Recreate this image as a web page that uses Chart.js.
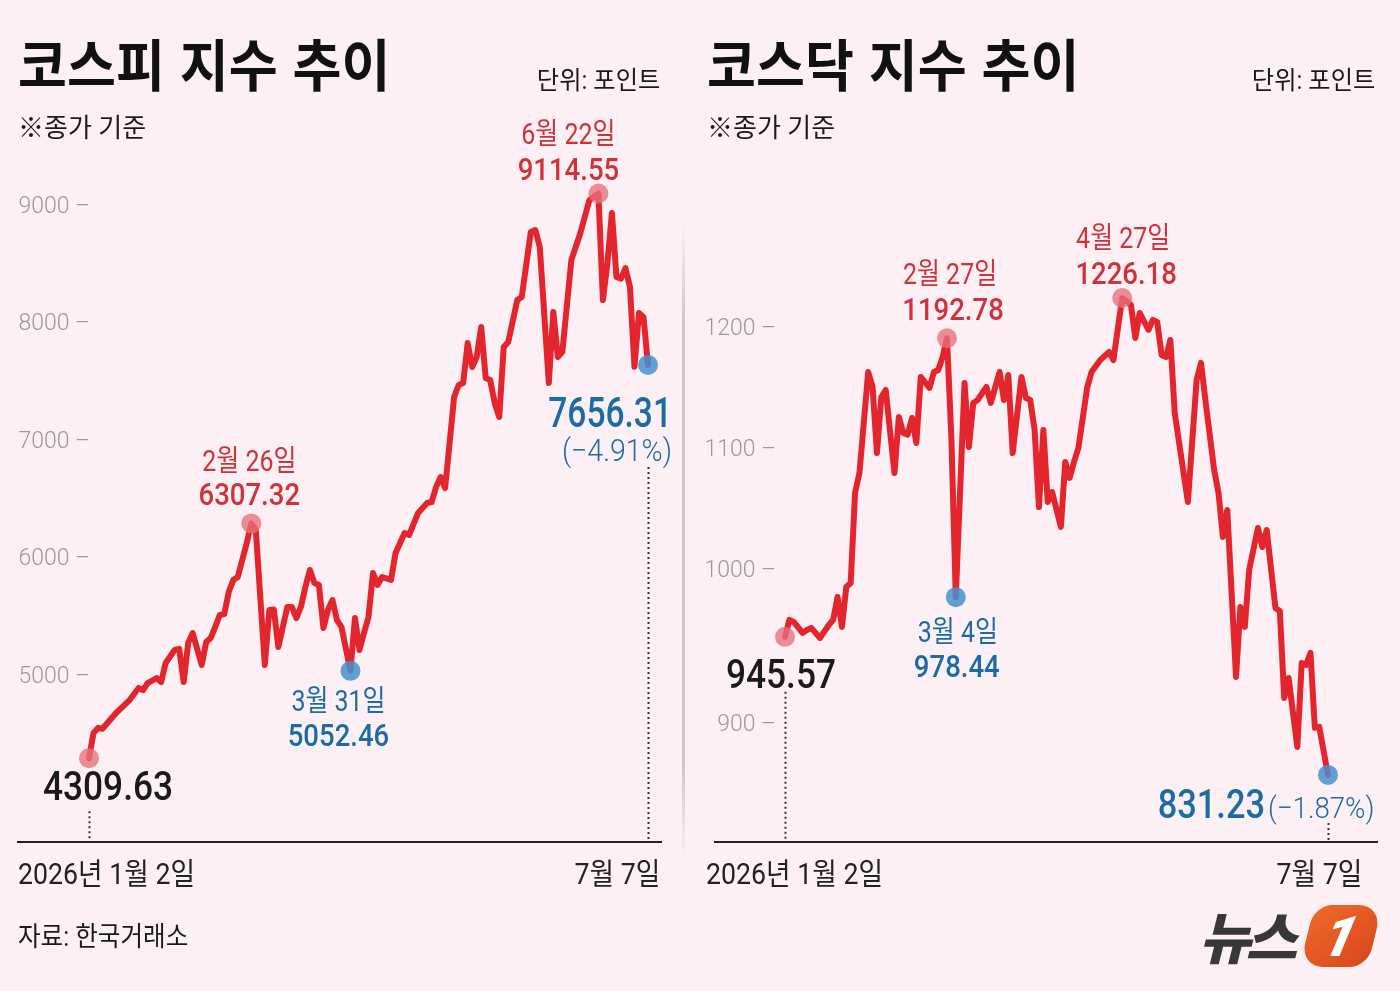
<!DOCTYPE html>
<html lang="ko">
<head>
<meta charset="utf-8">
<script src="https://cdn.jsdelivr.net/npm/chart.js@4.4.1/dist/chart.umd.min.js"></script>
<style>
  body{margin:0;width:1400px;height:991px;overflow:hidden;position:relative;background:#fcf0f4;
       font-family:Roboto,"Noto Sans CJK KR",sans-serif;color:#1a1a1a;}
  canvas{position:absolute;top:0;}
  .t{position:absolute;white-space:nowrap;line-height:1;}
  .l{transform-origin:left top;}
  .r{transform-origin:right top;}
  .title{font-family:"Noto Sans CJK KR";font-weight:700;font-size:56px;color:#111;top:34px;transform:scaleX(0.95);}
  .unit{font-size:25px;top:68px;transform:scaleX(0.97);}
  .sub{font-size:26px;top:115px;transform:scaleX(1);}
  .xl{font-size:30px;top:859px;color:#222;transform:scaleX(0.89);}
  .base{position:absolute;top:841px;height:2px;background:#222;}
</style>
</head>
<body>
<canvas id="kospi" width="700" height="991" style="left:0"></canvas>
<canvas id="kosdaq" width="700" height="991" style="left:700px"></canvas>

<div class="t title l" style="left:18px">코스피 지수 추이</div>
<div class="t unit r" style="right:740px">단위: 포인트</div>
<div class="t sub l" style="left:18px">※종가 기준</div>
<div class="base" style="left:17px;width:645px"></div>
<div class="t xl l" style="left:18px">2026년 1월 2일</div>
<div class="t xl r" style="right:740px">7월 7일</div>
<div class="t l" style="left:18px;top:924px;font-size:27px;transform:scaleX(0.91)">자료: 한국거래소</div>

<div style="position:absolute;left:682px;top:225px;width:3px;height:635px;
  background:linear-gradient(to bottom,rgba(205,195,200,0),rgba(205,195,200,0.95) 15%,rgba(205,195,200,0.95) 85%,rgba(205,195,200,0));"></div>

<div class="t title l" style="left:707px">코스닥 지수 추이</div>
<div class="t unit r" style="right:25px">단위: 포인트</div>
<div class="t sub l" style="left:707px">※종가 기준</div>
<div class="base" style="left:714px;width:664px"></div>
<div class="t xl l" style="left:706px">2026년 1월 2일</div>
<div class="t xl r" style="right:38px">7월 7일</div>

<div style="position:absolute;left:1203px;top:903px;width:180px;height:70px;">
  <span class="t" style="left:2px;top:4px;font-family:'Noto Sans CJK KR';font-weight:900;font-size:56px;color:#383838;letter-spacing:-5px;transform:skewX(-14deg);">뉴스</span>
  <div style="position:absolute;left:104px;top:2px;width:68px;height:62px;background:linear-gradient(135deg,#ef6a2a,#d9461a);border-radius:18px 24px 18px 24px;transform:skewX(-14deg);">
    <span class="t" style="left:18px;top:4px;font-family:Roboto;font-weight:900;font-style:italic;font-size:56px;color:#fff;">1</span>
  </div>
</div>

<script>
// 코스피 종가 (거래일 순번, 0 = 1월 2일, 124 = 7월 7일)
const kospiDays = [0,1,2,3,6,9,11,12,13,15,16,17,19,20,21,22,23,25,26,27,28,29,30,31,32,33,35,36,37,39,
  40,41,42,43,44,45,46,47,48,49,50,51,52,53,54,55,56,58,59,60,61,62,63,64,65,67,68,70,71,73,
  75,76,77,78,79,81,82,83,84,85,86,87,88,89,90,91,92,93,95,96,98,99,100,102,103,104,105,107,109,111,
  113,114,115,116,117,118,119,120,121,122,123,124];
const kospiValues = [4309.63,4523,4566,4560,4694,4804,4906,4889,4949,4991,4957,5119,5230,5240,4957,5289,5374,5102,5298,5332,
  5426,5528,5535,5723,5825,5851,6140,6307.32,6251,5102,5570,5575,5255,5426,5596,5596,5502,5596,5766,5911,
  5800,5783,5417,5570,5655,5485,5426,5052.46,5502,5230,5374,5511,5885,5783,5851,5826,6055,6225,6208,6396,
  6481,6489,6617,6702,6608,7383,7485,7502,7842,7638,7723,7979,7545,7527,7332,7213,7808,7851,8208,8234,
  8787,8804,8659,7502,8106,7723,7766,8549,8778,9059,9114.55,8208,8523,8949,8404,8390,8480,8319,7640,8098,
  8064,7656.31];

// 코스닥 종가
const kosdaqDays = [0,1,2,4,5,6,8,10,11,12,13,14,15,16,17,19,20,21,22,23,25,26,27,28,29,30,31,33,34,35,36,37,38,39,
  41,42,43,44,46,47,49,50,51,52,54,55,56,57,58,59,60,61,63,64,65,66,67,69,70,72,74,75,77,79,80,81,83,84,85,86,87,88,89,
  92,94,95,96,98,99,100,101,103,104,105,106,108,109,110,112,113,114,115,117,118,119,120,121,122,124];
const kosdaqValues = [945.57,959.6,957.9,948.8,951.3,953.0,944.7,955.4,959.6,978.6,953.8,986.9,990.2,1064.7,1081.3,1164.9,1152.5,1097.8,1144.2,1150.0,
  1081.3,1127.7,1114.4,1113.0,1126.8,1106.1,1160.8,1151.7,1164.9,1166.6,1177.3,1192.78,1110.0,978.44,
  1155.8,1102.8,1139.3,1141.7,1152.5,1139.3,1164.9,1141.7,1162.4,1097.8,1160.8,1143.4,1141.7,1116.9,1053.1,1116.9,
  1057.3,1065.5,1036.6,1090.4,1077.2,1090.4,1102.0,1151.7,1164.9,1174.8,1181.5,1174.8,1226.18,1220.4,1193.1,1213.8,
  1199.7,1208.0,1206.3,1179.0,1177.3,1191.4,1131.0,1057.3,1158.3,1172.4,1141.7,1083.8,1064.7,1028.3,1050.6,
  912.4,970.3,953.8,1001.0,1035.7,1020.0,1034.1,969.5,967.0,895.0,911.5,854.4,924.0,922.3,932.3,870.2,871.0,831.23];

const kospiTicks = [5000,6000,7000,8000,9000];
const kosdaqTicks = [900,1000,1100,1200];

// 표시 지점: 시작, 고점, 저점, 마지막
const kospiMarkDays = [0,36,58,113,124];
const kospiMarkDates = ['','2월 26일','3월 31일','6월 22일',''];
const kospiChange = '(−4.91%)';
const kosdaqMarkDays = [0,37,39,77,124];
const kosdaqMarkDates = ['','2월 27일','3월 4일','4월 27일',''];
const kosdaqChange = '(−1.87%)';

const RED = '#cf323a', BLUE = '#1b6ca6', LINE = '#e3262d';
const MARK_RED = 'rgba(232,112,122,0.78)', MARK_BLUE = 'rgba(70,145,205,0.85)';
const FONT = 'Roboto, "Noto Sans CJK KR", sans-serif';
const TICK_FONT = { size: 23, weight: 300, family: FONT };

Chart.defaults.font.family = FONT;

function valueAt(days, values, d){ return values[days.indexOf(d)]; }

const notesPlugin = {
  id: 'notes',
  afterDatasetsDraw(chart, args, opts) {
    const {ctx, chartArea, scales: {x, y}} = chart;
    ctx.save();
    ctx.setLineDash([2, 3]);
    ctx.lineWidth = 2;
    ctx.strokeStyle = '#333';
    (opts.drops || []).forEach(d => {
      const px = Math.round(x.getPixelForValue(d.day)) + 0.5;
      const py = y.getPixelForValue(d.value);
      ctx.beginPath();
      ctx.moveTo(px, py + d.from);
      ctx.lineTo(px, chartArea.bottom);
      ctx.stroke();
    });
    ctx.setLineDash([]);
    (opts.items || []).forEach(n => {
      const px = x.getPixelForValue(n.day), py = y.getPixelForValue(n.value);
      ctx.save();
      ctx.translate(px + n.dx, py + n.dy);
      ctx.scale(n.sx || 0.86, 1);
      ctx.font = n.font + ' ' + FONT;
      ctx.fillStyle = n.color;
      ctx.textAlign = n.align || 'center';
      ctx.textBaseline = 'alphabetic';
      ctx.fillText(n.text, 0, 0);
      ctx.restore();
    });
    // 시작값 라벨과 겹치지 않도록 아래로 내려 적은 눈금 (원본 그래픽과 같이)
    (opts.movedTicks || []).forEach(m => {
      ctx.font = `${TICK_FONT.weight} ${TICK_FONT.size}px ${FONT}`;
      ctx.fillStyle = '#9a9a9a';
      ctx.textAlign = 'right';
      ctx.textBaseline = 'middle';
      ctx.fillText(m.value + ' –', chartArea.left - m.pad, y.getPixelForValue(m.value) + m.shift);
    });
    ctx.restore();
  }
};

function makeChart(id, days, values, markDays, cfg) {
  const line = days.map((d, i) => ({x: d, y: values[i]}));
  const marks = markDays.map(d => ({x: d, y: valueAt(days, values, d)}));
  const moved = (cfg.movedTicks || []).map(m => m.value);
  return new Chart(document.getElementById(id), {
    type: 'line',
    data: {
      datasets: [
        { data: marks, showLine: false, order: 0, clip: false,
          pointRadius: 10, pointHoverRadius: 10, pointBorderWidth: 0,
          pointBackgroundColor: cfg.markColors },
        { data: line, order: 1, clip: false, borderColor: LINE, borderWidth: 6,
          borderJoinStyle: 'round', borderCapStyle: 'round',
          pointRadius: 0, tension: 0, fill: false }
      ]
    },
    options: {
      responsive: false,
      animation: false,
      events: [],
      layout: { padding: { left: 0, top: 150, right: cfg.padRight, bottom: 149 } },
      plugins: { legend: { display: false }, tooltip: { enabled: false },
                 notes: { items: cfg.items, drops: cfg.drops, movedTicks: cfg.movedTicks } },
      scales: {
        x: { type: 'linear', display: false, min: 0, max: 124 },
        y: {
          min: cfg.yMin, max: cfg.yMax,
          afterFit: s => { s.width = cfg.axisWidth; },
          afterBuildTicks: s => { s.ticks = cfg.ticks.map(v => ({value: v})); },
          grid: { display: false, drawTicks: false },
          border: { display: false },
          ticks: { color: '#9a9a9a', padding: cfg.tickPad, font: TICK_FONT,
                   callback: v => moved.includes(v) ? '' : v + ' –' }
        }
      }
    },
    plugins: [notesPlugin]
  });
}

function fmt(v){ return v.toFixed(2); }

// 코스피
const kp = kospiMarkDays.map(d => valueAt(kospiDays, kospiValues, d));
makeChart('kospi', kospiDays, kospiValues, kospiMarkDays, {
  yMin: 3596, yMax: 9485, ticks: kospiTicks, axisWidth: 89, tickPad: -1, padRight: 52,
  markColors: [MARK_RED, MARK_RED, MARK_BLUE, MARK_RED, MARK_BLUE],
  drops: [ {day: 0, value: kp[0], from: 53}, {day: 124, value: kp[4], from: 102} ],
  items: [
    {day: 0, value: kp[0], text: fmt(kp[0]), color: '#1a1a1a', font: '500 41px', dx: 19, dy: 42},
    {day: 36, value: kp[1], text: kospiMarkDates[1], color: RED, font: '400 29px', dx: -2, dy: -52},
    {day: 36, value: kp[1], text: fmt(kp[1]), color: RED, font: '500 32px', dx: -2, dy: -18},
    {day: 58, value: kp[2], text: kospiMarkDates[2], color: BLUE, font: '400 29px', dx: -12, dy: 40},
    {day: 58, value: kp[2], text: fmt(kp[2]), color: BLUE, font: '500 32px', dx: -12, dy: 75},
    {day: 113, value: kp[3], text: kospiMarkDates[3], color: RED, font: '400 29px', dx: -30, dy: -50},
    {day: 113, value: kp[3], text: fmt(kp[3]), color: RED, font: '500 32px', dx: -30, dy: -14},
    {day: 124, value: kp[4], text: fmt(kp[4]), color: BLUE, font: '500 43px', dx: 24, dy: 62, align: 'right', sx: 0.78},
    {day: 124, value: kp[4], text: kospiChange, color: BLUE, font: '300 31px', dx: 24, dy: 96, align: 'right', sx: 0.92}
  ]
});

// 코스닥
const kq = kosdaqMarkDays.map(d => valueAt(kosdaqDays, kosdaqValues, d));
makeChart('kosdaq', kosdaqDays, kosdaqValues, kosdaqMarkDays, {
  yMin: 775.7, yMax: 1348.7, ticks: kosdaqTicks, axisWidth: 85, tickPad: 9, padRight: 72,
  movedTicks: [ {value: 900, shift: 33, pad: 9} ],
  markColors: [MARK_RED, MARK_RED, MARK_BLUE, MARK_RED, MARK_BLUE],
  drops: [ {day: 0, value: kq[0], from: 55}, {day: 124, value: kq[4], from: 48} ],
  items: [
    {day: 0, value: kq[0], text: fmt(kq[0]), color: '#1a1a1a', font: '500 41px', dx: -4, dy: 51},
    {day: 37, value: kq[1], text: kosdaqMarkDates[1], color: RED, font: '400 29px', dx: 3, dy: -54},
    {day: 37, value: kq[1], text: fmt(kq[1]), color: RED, font: '500 32px', dx: 6, dy: -18},
    {day: 39, value: kq[2], text: kosdaqMarkDates[2], color: BLUE, font: '400 29px', dx: 2, dy: 45},
    {day: 39, value: kq[2], text: fmt(kq[2]), color: BLUE, font: '500 32px', dx: 1, dy: 80},
    {day: 77, value: kq[3], text: kosdaqMarkDates[3], color: RED, font: '400 29px', dx: 1, dy: -50},
    {day: 77, value: kq[3], text: fmt(kq[3]), color: RED, font: '500 32px', dx: 4, dy: -14},
    {day: 124, value: kq[4], text: fmt(kq[4]), color: BLUE, font: '500 40px', dx: -63, dy: 43, align: 'right'},
    {day: 124, value: kq[4], text: kosdaqChange, color: BLUE, font: '300 30px', dx: -60, dy: 43, align: 'left', sx: 0.92}
  ]
});
</script>
</body>
</html>
